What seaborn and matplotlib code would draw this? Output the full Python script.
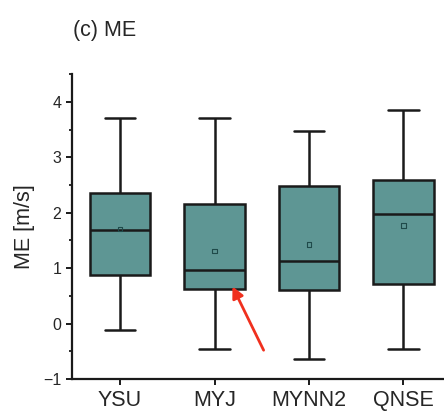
import numpy as np
import pandas as pd
import matplotlib
matplotlib.use("Agg")
import matplotlib.pyplot as plt
from matplotlib.ticker import MultipleLocator
import seaborn as sns

# five-number summaries (min, q1, median, q3, max)
models = ["YSU", "MYJ", "MYNN2", "QNSE"]
whislo = [-0.11, -0.46, -0.64, -0.45]
q1 = [0.88, 0.63, 0.60, 0.72]
median = [1.68, 0.97, 1.13, 1.97]
q3 = [2.35, 2.16, 2.49, 2.59]
whishi = [3.71, 3.71, 3.48, 3.85]
means = [1.71, 1.31, 1.43, 1.77]

# red arrow pointing at the MYJ box (data coords)
arrow_tip = (1.19, 0.67)
arrow_tail = (1.52, -0.48)

BOX = "#5e9694"
INK = "#1a1a1a"

rows = []
for i, m in enumerate(models):
    for v in (whislo[i], q1[i], median[i], q3[i], whishi[i]):
        rows.append({"model": m, "ME": v})
df = pd.DataFrame(rows)

sns.set_theme(style="ticks")
plt.rcParams["font.family"] = ["Liberation Sans", "DejaVu Sans"]

fig = plt.figure(figsize=(4.44, 4.12), dpi=100)
ax = fig.add_axes([0.163, 0.080, 0.837, 0.740])

sns.boxplot(data=df, x="model", y="ME", order=models, whis=(0, 100),
            color=BOX, saturation=1, linecolor=INK, linewidth=1.8,
            width=0.64, ax=ax)
sns.scatterplot(x=models, y=means, marker="s", s=10, facecolor="none",
                edgecolor="#1f4a4a", linewidth=0.8, ax=ax, zorder=5)

ax.annotate("", xy=arrow_tip, xytext=arrow_tail,
            arrowprops=dict(arrowstyle="-|>", color="#f0301e", lw=2.0,
                            mutation_scale=17, shrinkA=0, shrinkB=0))

ax.set_xlim(-0.505, 3.43)
ax.set_ylim(-1, 4.5)
ax.yaxis.set_major_locator(MultipleLocator(1))
ax.yaxis.set_minor_locator(MultipleLocator(0.5))
ax.set_xlabel("")
ax.set_ylabel("ME [m/s]", fontsize=15.5, labelpad=6)
ax.tick_params(axis="x", labelsize=15.5, length=4, width=1.4, pad=4, color=INK)
ax.tick_params(axis="y", which="major", labelsize=11.5, length=4.5, width=1.4, pad=3.5, color=INK)
ax.tick_params(axis="y", which="minor", length=2.5, width=1.3, color=INK)
for side in ("left", "bottom"):
    ax.spines[side].set_linewidth(1.6)
    ax.spines[side].set_color(INK)
sns.despine(ax=ax)

fig.text(0.164, 0.927, "(c) ME", fontsize=15.5, va="center", ha="left")

fig.savefig("out.png", dpi=100)
